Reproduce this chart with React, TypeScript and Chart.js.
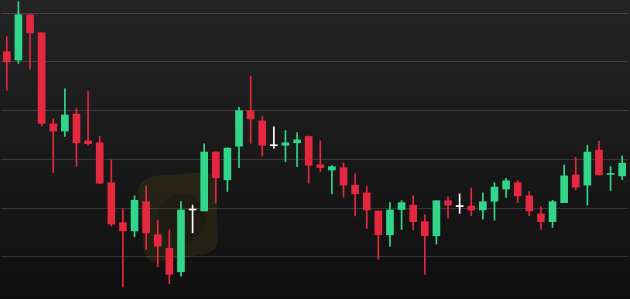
import React, { useEffect, useRef } from "react";
import { Chart, registerables } from "chart.js";

Chart.register(...registerables);

const days: string[] = Array.from({ length: 54 }, (_, i) => `D${i + 1}`);

const opens: number[] = [
  14.21, 14.04, 14.97, 14.60, 12.73, 12.58, 12.93, 12.38, 12.34, 11.52,
  10.70, 10.53, 11.13, 10.45, 10.17, 9.69, 10.96, 10.94, 12.15, 11.58,
  12.27, 13.00, 12.79, 12.28, 12.29, 12.34, 12.47, 11.89, 11.78, 11.83,
  11.47, 11.31, 10.94, 10.45, 10.97, 11.06, 10.72, 10.43, 11.15, 11.03,
  11.04, 10.96, 11.14, 11.39, 11.52, 11.25, 10.88, 10.72, 11.11, 11.68,
  11.47, 12.19, 11.69, 11.66,
];
const closes: number[] = [
  14.00, 14.97, 14.60, 12.74, 12.58, 12.91, 12.34, 12.32, 11.51, 10.67,
  10.53, 11.16, 10.49, 10.22, 9.64, 10.96, 10.96, 12.15, 11.62, 12.23,
  13.00, 12.83, 12.29, 12.28, 12.34, 12.40, 11.88, 11.83, 11.85, 11.47,
  11.29, 10.96, 10.45, 10.96, 11.11, 10.72, 10.43, 11.15, 11.06, 11.03,
  10.96, 11.13, 11.43, 11.56, 11.25, 10.94, 10.72, 11.13, 11.66, 11.43,
  12.15, 11.68, 11.70, 11.92,
];
const highs: number[] = [
  14.52, 15.24, 14.98, 14.60, 12.84, 13.45, 13.05, 13.39, 12.47, 11.99,
  10.99, 11.25, 11.45, 10.75, 10.55, 11.13, 11.06, 12.32, 12.16, 12.24,
  13.07, 13.70, 12.88, 12.67, 12.59, 12.55, 12.48, 12.38, 11.87, 11.93,
  11.70, 11.44, 10.94, 11.11, 11.15, 11.25, 10.86, 11.15, 11.23, 11.29,
  11.41, 11.31, 11.52, 11.61, 11.56, 11.34, 11.03, 11.16, 11.88, 12.04,
  12.29, 12.38, 11.85, 12.07,
];
const lows: number[] = [
  13.42, 13.97, 13.85, 12.69, 11.73, 12.47, 11.86, 12.29, 11.50, 10.63,
  9.38, 10.41, 10.15, 9.79, 9.45, 9.60, 10.49, 10.94, 11.10, 11.34,
  11.83, 12.33, 12.07, 12.23, 11.95, 11.85, 11.51, 11.75, 11.29, 11.22,
  10.84, 10.58, 9.95, 10.21, 10.56, 10.55, 9.64, 10.26, 10.79, 10.89,
  10.84, 10.77, 10.75, 11.22, 11.11, 10.84, 10.56, 10.60, 11.11, 11.38,
  11.06, 11.68, 11.36, 11.58,
];
const gridLevels: number[] = [10, 11, 12, 13, 14, 15];

const UP = "#31d68b";
const DOWN = "#e4283f";
const FLAT = "#ffffff";

const bgPlugin = {
  id: "bgGradient",
  beforeDraw(chart: any) {
    const { ctx, width, height } = chart;
    const g = ctx.createLinearGradient(0, 0, 0, height);
    g.addColorStop(0, "#242424");
    g.addColorStop(1, "#0f0f0f");
    ctx.save();
    ctx.fillStyle = g;
    ctx.fillRect(0, 0, width, height);
    // faint watermark logo
    ctx.globalAlpha = 0.1;
    ctx.fillStyle = "#b8a020";
    ctx.beginPath();
    ctx.moveTo(138, 190);
    ctx.quadraticCurveTo(140, 178, 155, 176);
    ctx.lineTo(205, 172);
    ctx.quadraticCurveTo(215, 172, 216, 184);
    ctx.lineTo(218, 238);
    ctx.quadraticCurveTo(218, 252, 204, 254);
    ctx.lineTo(160, 262);
    ctx.quadraticCurveTo(146, 264, 144, 250);
    ctx.closePath();
    ctx.fill();
    ctx.globalAlpha = 0.25;
    ctx.fillStyle = "#0c0c0c";
    ctx.beginPath();
    ctx.arc(182, 218, 24, 0, Math.PI * 2);
    ctx.fill();
    ctx.restore();
  },
};

export default function App() {
  const ref = useRef<HTMLCanvasElement | null>(null);

  useEffect(() => {
    document.body.style.margin = "0";
    const colors = opens.map((o, i) =>
      closes[i] > o ? UP : closes[i] < o ? DOWN : FLAT
    );
    const chart = new Chart(ref.current as HTMLCanvasElement, {
      type: "bar",
      data: {
        labels: days,
        datasets: [
          {
            label: "body",
            data: opens.map((o, i) => [o, closes[i]]),
            backgroundColor: colors,
            barThickness: 7,
            minBarLength: 1,
            grouped: false,
            order: 0,
          } as any,
          {
            label: "wick",
            data: lows.map((l, i) => [l, highs[i]]),
            backgroundColor: colors,
            barThickness: 1,
            grouped: false,
            order: 1,
          } as any,
        ],
      },
      options: {
        responsive: false,
        animation: false,
        layout: { padding: { left: 1, right: 2, top: 0, bottom: 0 } },
        plugins: {
          legend: { display: false },
          tooltip: { enabled: false },
        },
        scales: {
          x: { display: false, offset: true },
          y: {
            min: 9.131,
            max: 15.273,
            border: { display: false },
            ticks: { display: false },
            grid: {
              color: "rgba(255,255,255,0.14)",
              lineWidth: 1,
              drawTicks: false,
            },
            afterBuildTicks: (scale: any) => {
              scale.ticks = gridLevels.map((v) => ({ value: v }));
            },
          },
        },
      },
      plugins: [bgPlugin],
    });
    return () => chart.destroy();
  }, []);

  return (
    <div style={{ width: 630, height: 299 }}>
      <canvas ref={ref} width={630} height={299} />
    </div>
  );
}
